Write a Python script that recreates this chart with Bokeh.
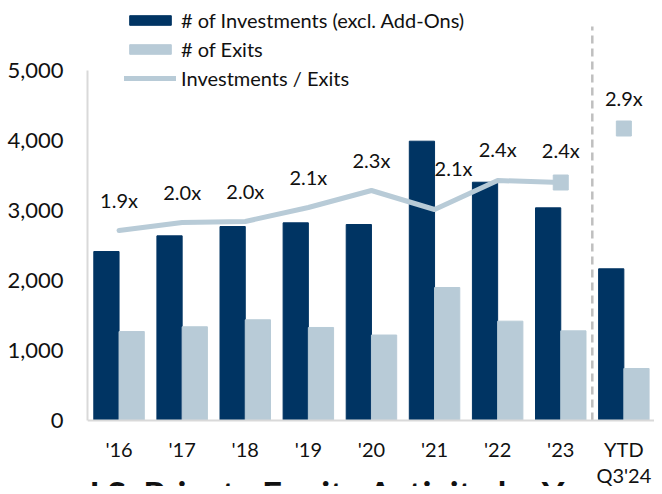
from bokeh.plotting import figure
from bokeh.models import (Range1d, FixedTicker, Span, Legend, LegendItem,
                          ColumnDataSource, NumeralTickFormatter)
from bokeh.transform import dodge
from bokeh.embed import file_html
from bokeh.resources import INLINE

# ---- data ----
categories = ["'16", "'17", "'18", "'19", "'20", "'21", "'22", "'23", "YTD\nQ3'24"]
investments = [2414, 2638, 2771, 2824, 2800, 3990, 3404, 3038, 2167]
exits = [1271, 1339, 1439, 1329, 1221, 1900, 1419, 1281, 743]
ratio = [1.90, 1.98, 1.99, 2.13, 2.30, 2.11, 2.40, 2.38, 2.92]
ratio_labels = ["1.9x", "2.0x", "2.0x", "2.1x", "2.3x", "2.1x", "2.4x", "2.4x", "2.9x"]
y_ticks = [0, 1000, 2000, 3000, 4000, 5000]
title_text = "U.S. Private Equity Activity by Year"

# label nudges (style, screen px)
label_dx = [0, 0, 0, 0, 0, 19, 0, 0, 0]
label_dy = [-31, -31, -31, -31, -31, -42, -32, -33, -31]

NAVY = "#003463"
LIGHT = "#b8cbd7"
FONT = "Lato"
TXT = "#111111"

# layout (pixels)
H = 486
W = 654
LEFT = 87
BASE = 420          # canvas y of the zero line
PX = 0.07           # pixels per unit (primary)
RPX = 100           # pixels per unit (ratio axis)
CAT_PX = 63.1       # pixels per category
DASH_TOP = 26       # canvas y where divider starts

Y_START, Y_END = -(H - BASE) / PX, BASE / PX
R_START, R_END = -(H - BASE) / RPX, BASE / RPX

xs = list(range(len(categories)))
src = ColumnDataSource(dict(x=xs, inv=investments, ex=exits, r=ratio,
                            lab=ratio_labels, dx=label_dx, dy=label_dy,
                            cat=categories))
n_hist = len(categories) - 1
line_src = ColumnDataSource(dict(x=xs[:n_hist], r=ratio[:n_hist]))
sq_src = ColumnDataSource(dict(x=xs[n_hist - 1:], r=ratio[n_hist - 1:]))

p = figure(width=W, height=H, output_backend="svg", toolbar_location=None,
           x_range=Range1d(-0.5, -0.5 + (W - LEFT) / CAT_PX),
           y_range=Range1d(Y_START, Y_END),
           min_border_left=LEFT, min_border_right=0, min_border_top=0,
           min_border_bottom=0)
p.extra_y_ranges = {"ratio": Range1d(R_START, R_END)}
p.outline_line_color = None
p.xgrid.visible = False
p.ygrid.visible = False
p.xaxis.visible = False
p.background_fill_color = "white"
p.border_fill_color = "white"

r_inv = p.vbar(x=dodge("x", -0.2), top="inv", width=0.4, source=src,
               fill_color=NAVY, line_color=NAVY)
r_ex = p.vbar(x=dodge("x", 0.2), top="ex", width=0.4, source=src,
              fill_color=LIGHT, line_color=LIGHT)

# baseline and divider
p.add_layout(Span(location=0, dimension="width", line_color="#d9d9d9", line_width=2))
p.segment(x0=n_hist - 0.5, y0=0, x1=n_hist - 0.5, y1=(BASE - DASH_TOP) / PX,
          line_color="#bfbfbf", line_width=2.5, line_dash="8 5")

r_line = p.line(x="x", y="r", source=line_src, y_range_name="ratio",
                line_color=LIGHT, line_width=5, line_cap="round", line_join="round")
p.scatter(x="x", y="r", source=sq_src, y_range_name="ratio", marker="square",
          size=15, fill_color=LIGHT, line_color=LIGHT)

p.text(x="x", y="r", text="lab", source=src, y_range_name="ratio",
       x_offset="dx", y_offset="dy", text_align="center", text_baseline="middle",
       text_font={"value": FONT}, text_font_size={"value": "20px"}, text_color=TXT)

# category labels under the zero line
p.text(x="x", y=0, text="cat", source=src, y_offset=16,
       text_align="center", text_baseline="top", text_line_height=1.1,
       text_font={"value": FONT}, text_font_size={"value": "20px"}, text_color=TXT)

# chart title (cut by the bottom edge, as in the reference)
p.text(x=[(len(categories) - 1) / 2 - 0.43], y=[0], text=[title_text], y_offset=51,
       text_align="center", text_baseline="top",
       text_font={"value": FONT}, text_font_size={"value": "35px"},
       text_font_style="bold", text_color=TXT)

# y axis
ya = p.yaxis[0]
ya.ticker = FixedTicker(ticks=y_ticks)
ya.formatter = NumeralTickFormatter(format="0,0")
ya.bounds = (0, 5000)
ya.axis_line_color = "#d9d9d9"
ya.axis_line_width = 2
ya.major_tick_line_color = None
ya.minor_tick_line_color = None
ya.major_label_standoff = 18
ya.major_label_text_font = FONT
ya.major_label_text_font_size = "22px"
ya.major_label_text_color = TXT

legend = Legend(items=[
    LegendItem(label="# of Investments (excl. Add-Ons)", renderers=[r_inv]),
    LegendItem(label="# of Exits", renderers=[r_ex]),
    LegendItem(label="Investments / Exits", renderers=[r_line]),
], location=(37, H - 90))
legend.glyph_width = 52
legend.glyph_height = 12
legend.label_height = 25
legend.spacing = 4
legend.padding = 0
legend.margin = 0
legend.label_standoff = 5
legend.border_line_color = None
legend.background_fill_alpha = 0
legend.label_text_font = FONT
legend.label_text_font_size = "20px"
legend.label_text_color = TXT
p.add_layout(legend)

open("out.html", "w").write(file_html(p, INLINE))
